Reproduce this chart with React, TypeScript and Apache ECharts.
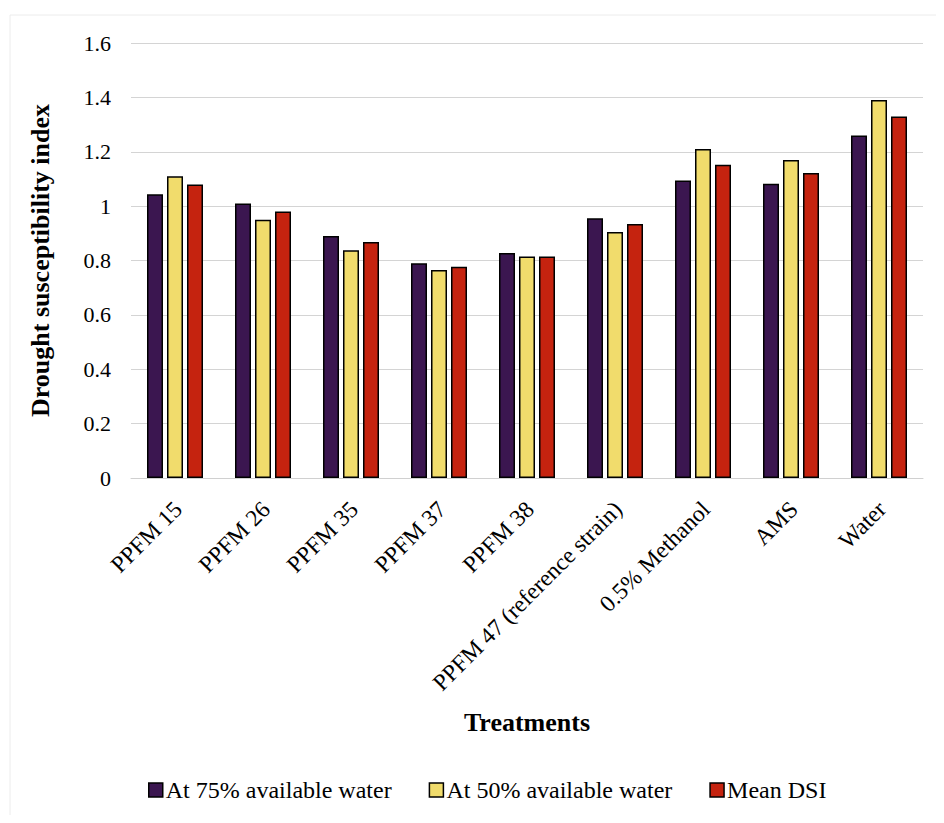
import React, { useEffect, useRef } from "react";
import * as echarts from "echarts";

const categories = [
  "PPFM 15",
  "PPFM 26",
  "PPFM 35",
  "PPFM 37",
  "PPFM 38",
  "PPFM 47 (reference strain)",
  "0.5% Methanol",
  "AMS",
  "Water",
];
const at75 = [1.044, 1.01, 0.89, 0.79, 0.828, 0.955, 1.094, 1.082, 1.26];
const at50 = [1.11, 0.95, 0.838, 0.765, 0.815, 0.905, 1.21, 1.17, 1.39];
const meanDSI = [1.08, 0.98, 0.868, 0.777, 0.815, 0.934, 1.152, 1.122, 1.33];
const seriesNames = ["At 75% available water", "At 50% available water", "Mean DSI"];

const FONT = "'Liberation Serif', 'Times New Roman', serif";

export default function App() {
  const ref = useRef<HTMLDivElement>(null);
  useEffect(() => {
    if (!ref.current) return;
    const chart = echarts.init(ref.current, undefined, { renderer: "svg" });
    const colors = ["#3b1650", "#f1dc6c", "#c5230f"];
    const data = [at75, at50, meanDSI];
    chart.setOption({
      animation: false,
      backgroundColor: "#ffffff",
      textStyle: { fontFamily: FONT, color: "#000" },
      grid: { left: 123, right: 13, top: 35, bottom: 337 },
      graphic: [
        {
          type: "polyline",
          silent: true,
          shape: { points: [[2, 807], [2, 7], [936, 7]] },
          style: { stroke: "#ececec", lineWidth: 1, fill: null },
        },
      ],
      legend: {
        top: 765,
        left: 135,
        itemWidth: 14,
        itemHeight: 14,
        itemGap: 37,
        textStyle: { fontFamily: FONT, fontSize: 24, color: "#000", padding: [0, 0, 0, -2] },
        data: seriesNames.map((n, i) => ({
          name: n,
          icon: "rect",
          itemStyle: { color: colors[i], borderColor: "#000", borderWidth: 1.5 },
          textStyle: { fontFamily: FONT, fontSize: 24, color: "#000" },
        })),
      },
      xAxis: {
        type: "category",
        data: categories,
        axisLine: { lineStyle: { color: "#d0d0d0", width: 1 } },
        axisTick: { show: false },
        axisLabel: {
          rotate: 45,
          interval: 0,
          fontFamily: FONT,
          fontSize: 23.5,
          color: "#000",
          margin: 30,
          padding: [0, -4, 0, 0],
        },
        name: "Treatments",
        nameLocation: "middle",
        nameGap: 231,
        nameTextStyle: { fontFamily: FONT, fontSize: 26, fontWeight: "bold", color: "#000" },
      },
      yAxis: {
        type: "value",
        min: 0,
        max: 1.6,
        interval: 0.2,
        axisLine: { show: false },
        axisTick: { show: false },
        splitLine: { lineStyle: { color: "#d4d4d4", width: 1 } },
        axisLabel: {
          fontFamily: FONT,
          fontSize: 22,
          color: "#000",
          margin: 20,
          formatter: (v: number) => (Math.abs(v - Math.round(v)) < 1e-9 ? String(Math.round(v)) : v.toFixed(1)),
        },
        name: "Drought susceptibility index",
        nameLocation: "middle",
        nameGap: 78,
        nameTextStyle: { fontFamily: FONT, fontSize: 26, fontWeight: "bold", color: "#000" },
      },
      series: seriesNames.map((n, i) => ({
        name: n,
        type: "bar",
        data: data[i],
        barWidth: 16,
        barGap: "25%",
        itemStyle: { color: colors[i], borderColor: "#000", borderWidth: 1.5 },
      })),
    });
    return () => chart.dispose();
  }, []);
  return <div ref={ref} style={{ width: 928, height: 807 }} />;
}
